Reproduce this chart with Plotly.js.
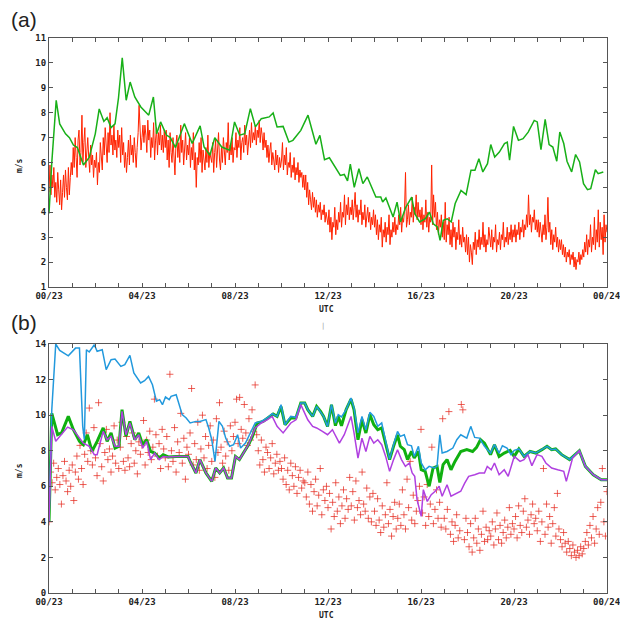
<!DOCTYPE html>
<html><head><meta charset="utf-8">
<script src="https://cdn.plot.ly/plotly-3.0.1.min.js"></script>
<style>html,body{margin:0;padding:0;background:#fff}#chart{width:620px;height:624px}</style>
</head><body><div id="chart"></div>
<script>
// ---------- tick labels ----------
const tickHours = [0,4,8,12,16,20,24];
const tickLabels = ["00/23","04/23","08/23","12/23","16/23","20/23","00/24"];

// ---------- panel (a): red series, 2.5-minute values (one row per hour) ----------
const redA = [
 4.8,5.9,4.7,5.5,5.0,5.8,4.6,5.2,4.4,5.6,4.9,4.3,5.3,4.1,4.8,5.5,4.6,5.7,5.0,4.5,5.8,4.7,5.4,6.0,
 5.5,6.6,5.8,7.0,6.2,5.4,6.9,7.3,5.9,6.4,7.9,6.0,6.8,7.4,5.8,6.5,7.0,6.2,5.6,6.7,5.9,6.3,5.4,6.1,
 5.8,6.4,5.1,6.0,5.6,6.8,6.1,5.7,7.0,6.3,7.4,6.6,6.0,7.2,6.4,8.0,6.7,7.1,6.3,7.5,6.5,6.9,6.2,7.3,
 6.6,7.1,6.0,7.4,6.3,6.8,5.8,6.4,5.6,6.2,6.9,5.9,7.1,6.3,6.7,6.0,7.0,6.4,5.8,6.6,7.2,8.3,6.9,6.5,
 7.0,7.5,6.8,7.5,7.1,6.4,7.7,6.9,7.3,6.2,7.0,6.6,7.6,6.1,6.9,7.4,6.3,7.2,6.7,7.5,6.5,7.1,6.4,7.3,
 6.6,7.3,6.1,6.9,5.8,7.2,6.4,6.0,7.0,6.3,5.5,6.7,7.1,6.2,6.8,6.0,7.5,6.4,6.9,5.9,6.6,7.2,6.1,6.7,
 6.3,7.0,5.8,6.6,6.1,7.2,5.7,6.4,5.0,6.2,5.9,6.8,6.0,7.0,5.6,6.5,6.1,5.7,6.6,6.0,7.1,5.8,6.4,6.2,
 6.0,6.8,5.6,6.4,6.9,5.8,6.5,7.2,6.1,5.7,6.6,6.0,7.0,6.3,5.9,6.8,6.4,7.6,6.1,6.7,6.3,7.0,6.0,6.6,
 6.5,7.2,6.2,6.9,6.6,7.4,6.1,6.8,7.0,6.4,7.5,6.7,7.1,6.3,6.9,7.3,6.6,7.6,6.8,7.2,6.9,7.5,6.7,7.3,
 7.0,7.7,6.8,7.4,7.1,6.5,7.2,6.6,6.9,6.2,6.7,6.0,6.5,6.8,5.9,6.4,6.1,5.7,6.5,5.9,6.3,5.6,6.2,5.8,
 6.1,6.8,5.7,6.3,5.9,6.6,5.5,6.0,5.8,6.4,5.4,5.9,5.6,6.2,5.3,5.8,5.5,6.0,5.2,5.7,5.4,5.6,5.0,5.5,
 4.9,5.5,4.6,5.2,4.3,4.9,4.5,4.1,4.8,4.2,4.6,4.0,4.5,3.8,4.3,4.0,4.4,3.7,4.1,3.9,4.3,3.6,4.0,3.8,
 3.5,4.1,3.2,3.8,2.9,3.6,3.4,4.2,3.1,3.7,3.3,4.0,3.6,4.4,3.4,4.0,3.8,4.7,3.5,4.3,3.9,4.6,3.7,4.2,
 3.9,4.5,3.7,4.2,4.8,3.8,4.3,3.6,4.1,3.9,4.5,3.5,4.0,3.7,4.3,3.4,3.9,4.2,3.6,4.0,3.3,3.8,3.5,4.1,
 3.4,3.9,3.1,3.7,2.9,3.5,3.2,3.8,2.6,3.3,3.0,3.6,2.8,3.4,3.1,3.9,2.7,3.3,3.0,3.6,3.2,3.8,3.1,3.5,
 3.3,3.9,3.5,4.2,3.2,3.8,3.6,4.1,5.6,3.4,3.7,4.3,3.5,4.0,3.8,4.6,3.6,4.2,3.9,4.7,3.7,4.4,3.8,4.1,
 3.5,4.2,3.3,3.9,3.6,4.5,3.4,4.0,3.2,3.8,3.6,5.9,3.5,4.7,3.8,4.4,3.3,4.0,3.1,3.7,3.4,3.9,3.0,3.6,
 2.9,4.4,2.8,3.5,3.1,3.8,2.7,3.3,2.6,3.6,3.0,3.4,2.5,3.2,2.9,3.7,2.7,3.1,2.6,3.4,2.8,3.0,2.4,3.1,
 2.3,3.0,2.0,2.7,2.4,1.9,2.8,2.5,3.2,2.3,2.9,2.6,3.3,2.5,3.0,2.7,3.6,2.6,3.1,2.4,2.9,2.7,3.4,2.8,
 2.6,3.3,2.5,3.0,2.8,3.5,2.4,2.9,2.7,3.2,2.5,3.1,2.9,3.6,2.6,3.0,2.8,3.4,2.7,3.2,2.9,3.5,2.8,3.3,
 3.0,3.5,2.8,3.3,3.1,3.6,2.9,3.4,3.2,3.7,3.0,3.5,3.3,3.9,3.4,4.7,3.5,3.9,3.2,3.8,3.6,4.1,3.3,3.7,
 3.2,3.7,3.0,3.6,3.3,2.8,3.5,3.1,3.9,2.9,3.4,4.6,3.2,3.6,2.7,3.3,2.5,3.1,2.8,3.4,2.6,3.0,2.4,2.9,
 2.5,2.9,2.3,2.7,2.2,2.6,2.0,2.4,2.2,2.5,1.9,2.3,2.1,2.4,1.8,2.2,1.7,2.1,2.0,2.4,1.9,2.3,2.1,2.5,
 2.2,2.8,2.4,3.1,2.3,2.9,2.6,3.5,2.4,3.0,2.7,3.8,2.5,3.3,2.8,4.1,2.6,3.6,2.9,3.4,2.3,3.9,2.8,3.5,
 3.2
];

// ---------- panel (a): green series ----------
const greenAHours = [0,0.12,0.31,0.46,0.71,0.88,1.05,1.22,1.48,1.73,1.99,2.16,2.36,2.5,2.67,2.84,2.99,3.15,3.32,3.49,3.69,3.95,4.29,4.49,4.63,4.8,5.05,5.22,5.44,5.82,6.16,6.5,6.67,6.92,7.13,7.43,7.77,7.98,8.2,8.42,8.66,8.88,9.13,9.34,9.47,9.64,9.81,10.07,10.32,10.49,10.83,11.14,11.48,11.65,11.85,12.06,12.28,12.53,12.7,12.84,12.96,13.13,13.33,13.5,13.69,13.89,14.06,14.27,14.35,14.49,14.8,14.97,15.12,15.34,15.6,15.73,15.94,16.19,16.36,16.53,16.7,16.82,16.96,17.13,17.3,17.47,17.72,17.94,18.15,18.32,18.49,18.66,18.86,19.0,19.17,19.37,19.59,19.71,19.81,19.98,20.19,20.39,20.61,20.87,21.0,21.16,21.34,21.51,21.67,21.84,21.97,22.14,22.28,22.48,22.65,22.82,22.99,23.16,23.3,23.5,23.62,23.84];
const greenAVals  = [3.95,6.0,8.5,7.55,7.15,7.0,6.7,6.6,5.9,6.2,7.15,8.15,7.65,7.8,7.4,7.55,8.6,10.2,8.5,9.23,8.63,8.23,7.9,8.63,7.15,7.63,7.1,7.0,6.6,7.56,6.76,7.47,6.62,6.29,7.0,6.62,6.49,7.63,7.1,7.16,8.16,7.43,7.76,7.8,7.83,7.99,7.43,7.45,6.82,6.89,7.29,7.9,6.73,7.09,6.11,6.19,5.88,5.48,5.52,5.26,5.93,5.0,5.75,5.15,5.42,5.02,4.61,4.61,4.41,4.57,3.81,4.41,3.61,4.19,4.61,3.95,3.61,3.74,4.01,3.54,3.41,2.87,3.68,3.74,3.61,4.35,4.88,4.71,5.69,5.69,6.15,5.62,5.95,6.72,6.22,6.42,6.76,6.82,6.09,7.45,6.89,6.96,7.22,7.69,7.63,6.52,7.73,6.72,6.62,6.05,7.22,6.76,6.05,5.62,6.32,6.02,5.15,4.91,4.95,5.71,5.55,5.62];

// ---------- panel (b): red crosses, 4-minute values (one row per hour) ----------
const crossB = [
 4.0,6.8,6.2,7.3,5.8,6.5,7.0,6.1,5.0,6.6,7.4,6.3,5.7,6.9,6.0,
 7.2,5.2,6.8,7.7,6.4,8.3,7.0,6.1,7.8,9.0,7.4,10.4,8.0,7.2,9.3,
 7.6,6.6,10.7,8.4,7.1,6.3,7.9,9.2,7.5,8.1,6.8,7.7,9.4,7.3,8.6,
 7.0,8.2,9.6,7.4,6.9,8.8,7.6,7.1,8.4,9.0,7.3,8.0,6.7,8.5,7.8,
 8.3,9.7,7.2,8.6,7.9,9.1,7.5,8.2,10.9,8.9,7.7,8.4,7.0,9.2,8.1,
 7.6,8.8,7.1,12.3,8.0,7.4,9.3,6.8,8.5,7.9,10.1,7.3,8.7,6.4,8.2,
 7.8,9.0,11.5,7.2,8.4,7.5,9.6,6.9,8.1,10.0,7.6,8.8,7.0,8.3,9.4,
 7.4,8.6,6.5,9.8,7.9,10.7,8.2,7.3,9.1,7.7,8.5,6.9,9.4,8.0,8.8,
 9.6,10.9,8.4,11.0,9.2,8.7,10.6,9.0,8.3,9.8,8.6,10.3,9.1,11.7,8.9,
 8.0,7.2,8.6,7.5,6.8,8.2,7.9,7.0,7.6,8.4,6.7,7.3,7.8,6.9,7.4,
 7.0,6.4,7.6,6.1,6.9,5.8,7.3,6.6,6.0,7.1,5.6,6.5,6.9,5.9,6.3,
 6.2,5.4,6.8,5.0,6.1,4.6,5.7,6.4,4.9,5.5,7.0,4.4,5.8,5.2,6.0,
 4.8,5.6,3.6,5.1,4.3,6.2,4.6,5.4,3.9,4.9,5.8,4.2,5.3,4.7,6.5,
 4.9,5.7,4.1,6.3,4.8,5.2,4.4,6.8,5.0,4.6,5.9,4.2,5.4,4.0,5.6,
 4.6,3.8,5.3,4.1,3.4,4.9,3.7,4.4,6.2,3.9,4.7,3.2,4.3,5.1,3.6,
 4.2,5.0,3.8,5.8,4.4,3.6,6.4,4.8,7.4,4.1,5.5,3.9,4.6,5.2,6.0,
 9.2,4.5,5.4,3.8,6.1,4.3,5.0,8.2,3.9,4.7,5.8,4.2,5.1,3.7,9.8,
 4.2,3.6,4.7,10.2,3.3,4.0,2.9,3.8,4.4,3.1,3.5,10.6,10.3,3.0,4.2,
 3.4,2.6,3.9,2.3,3.1,4.2,2.8,3.6,2.4,3.3,4.6,2.9,3.7,3.0,3.5,
 3.2,4.0,2.7,3.6,4.5,3.0,3.8,2.8,3.4,4.1,3.1,3.7,4.8,3.3,3.9,
 3.6,4.3,3.1,4.9,3.8,3.4,4.6,5.3,3.7,4.1,3.3,4.4,5.0,3.9,4.2,
 3.5,4.6,2.9,4.0,7.0,3.3,5.0,3.7,4.3,2.8,3.9,4.8,3.2,5.6,3.6,
 3.0,2.6,3.4,2.8,2.3,2.9,2.5,2.1,2.7,2.3,2.0,2.4,2.1,2.6,2.2,
 2.5,2.9,3.4,2.7,3.8,3.1,4.3,2.8,3.6,4.8,3.3,5.1,7.0,4.0,3.2,
 5.7
];

// ---------- panel (b): blue line ----------
const blueHours = [0,0.12,0.29,0.46,0.83,1.14,1.31,1.45,1.52,1.61,1.73,1.95,2.07,2.29,2.46,2.67,2.84,3.09,3.26,3.48,3.65,3.94,4.11,4.28,4.45,4.62,4.76,4.88,5.01,5.17,5.25,5.47,5.73,5.9,6.07,6.32,6.49,6.75,6.87,7.0,7.14,7.31,7.46,7.6,7.77,7.94,8.11,8.24,8.45,8.65,8.87,9.13,9.38,9.6,9.81,9.98,10.15,10.4,10.62,10.83,11.0,11.13,11.34,11.51,11.68,11.81,11.98,12.15,12.32,12.44,12.58,12.78,12.99,13.12,13.29,13.46,13.63,13.8,13.97,14.14,14.31,14.48,14.65,14.82,14.99,15.11,15.28,15.42,15.59,15.71,15.89,16.01,16.18,16.35,16.56,16.69,16.81,16.91,17.12,17.37,17.54,17.71,17.97,18.14,18.31,18.51,18.73,18.99,19.16,19.36,19.5,19.7,19.87,20.01,20.21,20.43,20.69,20.94,21.2,21.42,21.62,21.79,22.05,22.39,22.81,23.07,23.41,23.75,24];
const blueVals  = [4.0,10.3,14.0,13.64,13.34,13.77,13.77,9.37,8.63,13.68,13.55,13.96,13.59,13.68,12.56,13.12,13.16,12.74,12.84,13.36,12.37,11.81,11.94,12.18,11.71,10.78,10.87,10.59,11.02,10.87,11.06,11.15,10.03,9.84,9.56,9.65,9.65,9.75,9.28,8.62,7.4,9.65,9.37,8.71,8.25,8.34,8.9,8.15,8.43,9.0,9.56,9.65,9.84,10.08,9.93,10.59,9.46,9.93,9.88,10.68,10.68,10.31,9.93,10.49,10.21,9.93,9.37,10.59,9.56,10.03,9.9,10.31,10.96,10.4,9.0,9.93,9.18,10.16,9.93,9.37,9.56,8.62,7.53,8.34,9.09,8.81,8.9,8.34,8.28,7.68,8.25,7.31,6.93,7.12,7.03,7.12,8.9,7.87,7.96,8.15,8.62,8.9,8.71,9.37,8.75,8.71,8.25,7.87,8.34,7.87,8.28,8.15,7.78,8.02,8.1,7.68,7.96,7.87,8.06,8.25,8.06,8.1,7.78,7.5,8.0,7.12,6.65,6.37,6.37];

// ---------- panel (b): green line ----------
const greenBHours = [0,0.12,0.37,0.54,0.83,1.05,1.31,1.48,1.65,1.85,2.07,2.33,2.5,2.67,2.84,3.01,3.14,3.31,3.48,3.69,3.86,4.03,4.2,4.37,4.54,4.74,4.91,5.13,5.47,5.73,5.98,6.07,6.32,6.49,6.75,7.0,7.17,7.34,7.51,7.68,7.85,8.02,8.19,8.36,8.58,8.75,8.96,9.21,9.43,9.64,9.81,9.98,10.15,10.4,10.62,10.83,11.0,11.13,11.34,11.51,11.68,11.81,11.98,12.15,12.32,12.44,12.58,12.78,12.99,13.12,13.29,13.46,13.63,13.8,13.97,14.14,14.31,14.48,14.65,14.82,14.99,15.11,15.28,15.42,15.59,15.71,15.89,16.01,16.18,16.35,16.52,16.69,16.81,16.95,17.12,17.29,17.46,17.71,17.97,18.22,18.39,18.56,18.73,18.99,19.16,19.36,19.58,19.83,20.01,20.21,20.43,20.69,20.94,21.2,21.42,21.62,21.79,22.05,22.39,22.81,23.07,23.41,23.75,24];
const greenBVals  = [4.0,10.1,8.9,9.0,9.93,9.18,8.53,8.34,8.9,7.96,8.53,9.28,8.53,9.0,8.15,8.25,10.31,8.81,9.65,8.62,9.0,8.34,8.62,7.96,7.87,7.59,7.78,7.65,7.68,7.68,7.68,7.4,6.75,7.5,6.75,6.28,7.03,6.75,7.03,6.47,6.47,7.68,7.5,7.87,8.34,8.81,9.56,9.65,9.84,10.06,9.93,10.49,9.46,9.84,9.84,10.68,10.68,10.31,9.93,10.49,10.21,9.93,9.37,10.59,9.41,9.93,9.4,10.31,10.9,10.3,8.62,9.74,9.0,10.03,9.46,9.18,9.28,8.43,7.5,8.25,8.9,8.25,8.06,7.5,7.96,7.59,7.96,6.93,6.84,6.0,7.03,7.12,6.22,7.22,7.5,6.93,7.4,7.96,8.06,7.96,8.19,8.62,8.43,7.78,8.34,7.68,7.87,8.02,7.68,8.1,7.68,7.96,7.87,8.06,8.25,8.06,8.1,7.78,7.5,8.0,7.12,6.65,6.37,6.37];

// ---------- panel (b): purple line ----------
const purpleHours = [0,0.12,0.29,0.46,0.8,1.05,1.31,1.48,1.73,1.95,2.07,2.33,2.5,2.67,2.84,3.01,3.14,3.31,3.48,3.69,3.86,4.03,4.2,4.37,4.54,4.74,4.91,5.13,5.47,5.73,5.98,6.07,6.32,6.49,6.75,7.0,7.17,7.34,7.51,7.68,7.85,8.02,8.19,8.36,8.58,8.87,9.13,9.38,9.6,9.81,10.07,10.4,10.62,10.83,11.13,11.34,11.51,11.76,11.98,12.19,12.36,12.49,12.7,12.99,13.12,13.29,13.46,13.63,13.8,13.97,14.14,14.31,14.48,14.65,14.82,14.99,15.16,15.33,15.5,15.62,15.73,15.83,16.01,16.1,16.27,16.44,16.61,16.78,16.91,17.12,17.29,17.54,17.71,17.88,18.05,18.31,18.51,18.73,18.85,19.02,19.16,19.36,19.58,19.75,20.01,20.26,20.43,20.6,20.77,20.99,21.2,21.37,21.62,21.88,22.14,22.25,22.52,22.81,23.07,23.41,23.75,24];
const purpleVals  = [4.0,9.37,8.53,8.81,9.33,9.18,8.71,8.43,8.25,7.78,7.78,9.09,8.62,8.81,8.25,8.25,10.21,8.9,9.56,8.62,8.9,8.15,8.53,7.5,7.87,7.5,7.68,7.65,7.68,7.68,7.68,7.4,6.75,7.5,6.75,6.28,7.03,6.75,7.03,6.47,6.47,7.68,7.5,7.87,8.34,9.28,9.56,9.74,9.93,9.37,9.0,9.56,9.74,10.59,9.74,9.37,9.28,9.09,8.9,9.18,8.71,8.43,8.9,9.93,9.0,7.59,8.71,7.96,8.81,8.43,8.62,8.34,7.68,6.84,7.5,8.06,7.5,7.12,7.31,6.75,6.56,5.25,4.31,5.81,5.15,5.53,5.72,6.0,5.44,6.09,5.44,5.62,5.72,6.18,6.56,6.65,6.75,6.75,7.12,6.93,7.31,6.65,6.93,6.56,7.68,7.4,7.5,7.78,7.16,7.78,7.68,7.31,7.03,6.93,6.84,6.28,7.59,8.0,7.12,6.65,6.37,6.37];

// ---------- build ----------
const hoursOf = arr => arr.map((v,i) => i*24/(arr.length-1));
const minorHours = Array.from({length:25},(v,i)=>i);
const allTickText = minorHours.map(h => { const k = tickHours.indexOf(h); return (k>=0 && h<24) ? tickLabels[k] : ""; });

const tickFont = {family:"DejaVu Sans Mono, monospace", size:9, color:"#222", weight:"bold"};
const frame = {showline:true, linecolor:"#555", linewidth:1, mirror:"ticks", ticks:"inside", ticklen:4, tickcolor:"#555", showgrid:false, zeroline:false, tickfont:tickFont, fixedrange:true};

const traces = [
 {x:hoursOf(redA), y:redA, type:"scatter", mode:"lines", line:{color:"#ff2200", width:1}, xaxis:"x", yaxis:"y"},
 {x:greenAHours, y:greenAVals, type:"scatter", mode:"lines", line:{color:"#18b018", width:1.5}, xaxis:"x", yaxis:"y"},
 {x:hoursOf(crossB), y:crossB, type:"scatter", mode:"markers", marker:{symbol:"cross-thin", size:5, color:"rgba(230,45,35,0.75)", line:{color:"rgba(230,45,35,0.75)", width:1}}, xaxis:"x2", yaxis:"y2"},
 {x:greenBHours, y:greenBVals, type:"scatter", mode:"lines", line:{color:"#10b010", width:3}, xaxis:"x2", yaxis:"y2"},
 {x:blueHours, y:blueVals, type:"scatter", mode:"lines", line:{color:"#2299dd", width:1.5}, xaxis:"x2", yaxis:"y2"},
 {x:purpleHours, y:purpleVals, type:"scatter", mode:"lines", line:{color:"#b040e0", width:1.5}, xaxis:"x2", yaxis:"y2"}
];

const xCommon = Object.assign({}, frame, {range:[0,24], tickmode:"array", tickvals:minorHours, ticktext:allTickText});
const annFont = {family:"DejaVu Sans Mono, monospace", size:8, color:"#222", weight:"bold"};
const lastLabel = tickLabels[tickLabels.length-1];
const layout = {
 width:620, height:624, showlegend:false,
 paper_bgcolor:"#fff", plot_bgcolor:"#fff",
 margin:{l:49, r:13, t:38, b:31},
 xaxis: Object.assign({}, xCommon, {anchor:"y"}),
 yaxis: Object.assign({}, frame, {domain:[0.5514,1], range:[1,11], tickmode:"array", tickvals:[1,2,3,4,5,6,7,8,9,10,11], anchor:"x"}),
 xaxis2: Object.assign({}, xCommon, {anchor:"y2"}),
 yaxis2: Object.assign({}, frame, {domain:[0,0.4486], range:[0,14], tickmode:"array", tickvals:[0,2,4,6,8,10,12,14], anchor:"x2"}),
 annotations:[
  {text:lastLabel, xref:"x", yref:"paper", x:24, y:0.5514, xanchor:"center", yanchor:"top", yshift:-2, showarrow:false, font:tickFont},
  {text:lastLabel, xref:"x2", yref:"paper", x:24, y:0, xanchor:"center", yanchor:"top", yshift:-2, showarrow:false, font:tickFont},
  {text:"(a)", xref:"paper", yref:"paper", x:-0.072, y:1.034, xanchor:"left", yanchor:"middle", showarrow:false, font:{family:"Liberation Sans, Arial", size:21, color:"#222"}},
  {text:"(b)", xref:"paper", yref:"paper", x:-0.072, y:0.4865, xanchor:"left", yanchor:"middle", showarrow:false, font:{family:"Liberation Sans, Arial", size:21, color:"#222"}},
  {text:"UTC", xref:"paper", yref:"paper", x:0.498, y:0.5117, xanchor:"center", yanchor:"middle", showarrow:false, font:annFont},
  {text:"UTC", xref:"paper", yref:"paper", x:0.498, y:-0.0414, xanchor:"center", yanchor:"middle", showarrow:false, font:annFont},
  {text:"m/s", xref:"paper", yref:"paper", x:-0.0538, y:0.771, xanchor:"center", yanchor:"middle", textangle:-90, showarrow:false, font:annFont},
  {text:"m/s", xref:"paper", yref:"paper", x:-0.0538, y:0.2216, xanchor:"center", yanchor:"middle", textangle:-90, showarrow:false, font:annFont},
  {text:"|", xref:"paper", yref:"paper", x:0.491, y:0.481, xanchor:"center", yanchor:"middle", showarrow:false, font:{family:"DejaVu Sans", size:7, color:"#999"}}
 ]
};
Plotly.newPlot("chart", traces, layout, {staticPlot:true, displayModeBar:false});
</script></body></html>
